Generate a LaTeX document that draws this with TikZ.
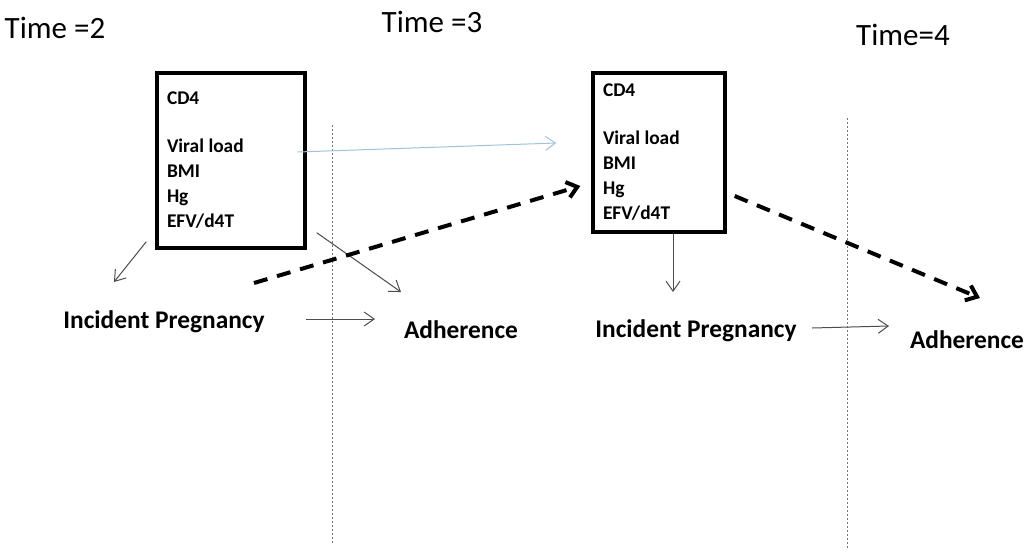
\documentclass[tikz,border=0pt]{standalone}
\usepackage{fontspec}
\setmainfont{Carlito}
\usetikzlibrary{arrows.meta}
\definecolor{paleblue}{RGB}{160,195,215}

\begin{document}
\begin{tikzpicture}[
  x=0.5pt, y=-0.5pt,
  timelabel/.style={inner sep=0pt, anchor=base, font=\fontsize{15.5}{18}\selectfont},
  varbox/.style={draw, line width=1.7pt, align=left, inner sep=5pt, font=\bfseries\fontsize{9.7}{12.5}\selectfont},
  outcome/.style={inner sep=0pt, anchor=base, font=\bfseries\fontsize{12.7}{15}\selectfont},
  thinarrow/.style={-{Straight Barb[length=5pt,width=7pt]}, line width=0.5pt, draw=black!70},
  lagarrow/.style={-{Straight Barb[length=5pt,width=8pt]}, line width=2pt, dash pattern=on 7pt off 5pt},
  divider/.style={draw=black!55, line width=0.5pt, dash pattern=on 1pt off 1pt}
]
\useasboundingbox (0,0) rectangle (1031,552);

% time labels
\node[timelabel] (timeA) at (55,38) {Time =2};
\node[timelabel] (timeB) at (432,32) {Time =3};
\node[timelabel] (timeC) at (903,45) {Time=4};

% dividers
\coordinate (divAtop) at (332,125);
\coordinate (divAbot) at (332,545);
\coordinate (divBtop) at (847,118);
\coordinate (divBbot) at (847,548);
\draw[divider] (divAtop) -- (divAbot);
\draw[divider] (divBtop) -- (divBbot);

% covariate boxes
\node[varbox, text width=64pt, minimum height=87.5pt] (boxA) at (231,160.5) {CD4\\[11.5pt]Viral\hspace{-1pt} load\\BMI\\Hg\\EFV/d4T};
\node[varbox, text width=56pt, minimum height=79.5pt] (boxB) at (659,152.5) {CD4\\[11.5pt]Viral\hspace{-1pt} load\\BMI\\Hg\\EFV/d4T};

% outcomes
\node[outcome] (pregA) at (164,328) {Incident Pregnancy};
\node[outcome] (adhA) at (461,338) {Adherence};
\node[outcome] (pregB) at (696,337) {Incident Pregnancy};
\node[outcome] (adhB) at (967,348) {Adherence};

% arrows
\draw[thinarrow] ([shift={(-9,-8)}]boxA.south west) -- ([shift={(-50,-46)}]pregA.base);
\draw[thinarrow] ([shift={(10,-17)}]boxA.south east) -- ([shift={(-60,-46)}]adhA.base);
\draw[thinarrow] ([shift={(142,-9)}]pregA.base) -- ([shift={(-86,-19)}]adhA.base);
\draw[thinarrow, draw=paleblue] ([shift={(-9,-8.5)}]boxA.east) -- ([shift={(-35,-9.5)}]boxB.west);
\draw[lagarrow] ([shift={(90,-45)}]pregA.base) -- ([shift={(-11,33.5)}]boxB.west);
\draw[lagarrow] ([shift={(8,43.5)}]boxB.east) -- ([shift={(13,-50)}]adhB.base);
\draw[thinarrow] ([shift={(14,0)}]boxB.south) -- ([shift={(-23,-45)}]pregB.base);
\draw[thinarrow] ([shift={(116,-9)}]pregB.base) -- ([shift={(-78,-22)}]adhB.base);
\end{tikzpicture}
\end{document}
